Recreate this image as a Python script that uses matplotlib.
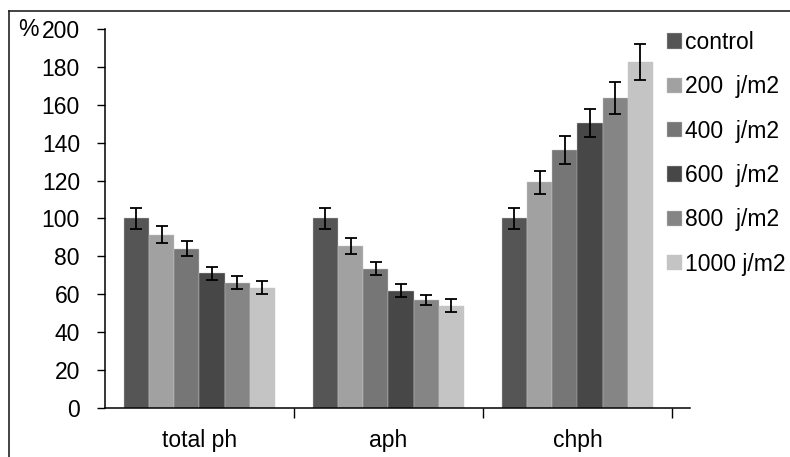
import numpy as np
import matplotlib
matplotlib.use('Agg')
import matplotlib.pyplot as plt
from matplotlib.lines import Line2D

plt.rcParams['font.family'] = ['Liberation Sans', 'DejaVu Sans']

categories = ['total ph', 'aph', 'chph']
series = ['control', '200  j/m2', '400  j/m2', '600  j/m2', '800  j/m2', '1000 j/m2']
colors = ['#555555', '#a1a1a1', '#767676', '#474747', '#858585', '#c4c4c4']

# values per series: [total ph, aph, chph]
values = [
    [100, 100, 100],
    [91.5, 85.5, 119],
    [84, 73.5, 136],
    [71, 62, 150.5],
    [66, 57, 163.5],
    [63.5, 54, 182.5],
]
errors = [
    [5.5, 5.5, 5.5],
    [4.5, 4.3, 5.9],
    [4, 3.3, 7.3],
    [3.2, 3.5, 7.4],
    [3.4, 2.6, 8.3],
    [3.6, 3.3, 9.4],
]

FS = 16.5
W, H = 790, 457
fig = plt.figure(figsize=(W / 100, H / 100), dpi=100)
ax = fig.add_axes([105 / W, 1 - 408 / H, (690 - 105) / W, (408 - 29) / H])

x = np.arange(len(categories))
bw = 0.8 / len(series)
for i, (name, c) in enumerate(zip(series, colors)):
    pos = x - 0.4 + bw * (i + 0.5)
    ax.bar(pos, values[i], width=bw, color=c, edgecolor='#c8c8c8', linewidth=0.3,
           label=name, zorder=2)
    ax.errorbar(pos, values[i], yerr=errors[i], fmt='none', ecolor='black',
                elinewidth=1.3, capsize=4, capthick=1.3, zorder=3)

ax.set_xlim(-0.5, 2.5 + 18 / 189)
ax.set_ylim(0, 200)
ax.set_yticks(np.arange(0, 201, 20))
ax.tick_params(axis='y', length=6, width=1, pad=12, labelsize=FS, colors='black')

ax.set_xticks([0.5, 1.5, 2.5])
ax.set_xticklabels([])
ax.set_xticks(x, minor=True)
ax.set_xticklabels(categories, minor=True)
ax.tick_params(axis='x', which='major', length=7, width=1, direction='out')
ax.tick_params(axis='x', which='minor', length=0, pad=15, labelsize=FS)

for s in ['top', 'right']:
    ax.spines[s].set_visible(False)
for s in ['left', 'bottom']:
    ax.spines[s].set_linewidth(1.1)

fig.text(18 / W, 1 - 29 / H, '%', fontsize=FS, va='center', ha='left')

ax.legend(loc='upper left', bbox_to_anchor=(667 / W, 1 - 31 / H),
          bbox_transform=fig.transFigure, frameon=False, fontsize=FS,
          handlelength=0.65, handleheight=0.65, handletextpad=0.15,
          labelspacing=0.93, borderpad=0, borderaxespad=0)

# outer frame (left and top edges visible)
fig.add_artist(Line2D([9 / W, 9 / W], [0, 1 - 11 / H], color='#222222', lw=1.2,
                      transform=fig.transFigure))
fig.add_artist(Line2D([9 / W, 1], [1 - 11 / H, 1 - 11 / H], color='#222222', lw=1.2,
                      transform=fig.transFigure))

fig.savefig('out.png', dpi=100)
